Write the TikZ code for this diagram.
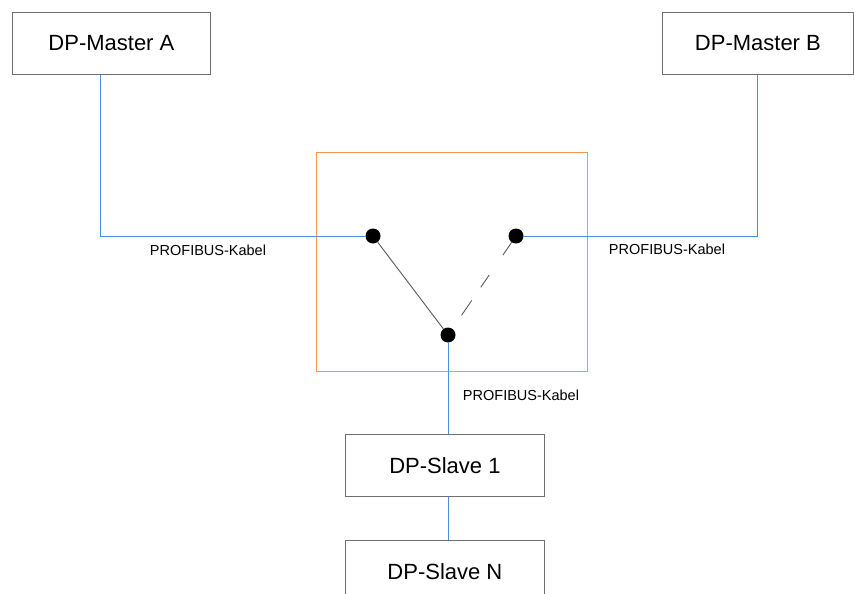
\documentclass[tikz,border=0pt]{standalone}
\usepackage{fontspec}
\setmainfont{Liberation Sans}
\usetikzlibrary{calc}
\definecolor{cableblue}{RGB}{74,144,226}
\definecolor{switchorange}{RGB}{247,150,80}
\definecolor{framegray}{RGB}{110,110,110}
\definecolor{leggray}{RGB}{90,90,90}
\begin{document}
\begin{tikzpicture}[x=1pt,y=1pt,
  device/.style={draw=framegray, line width=0.8pt, fill=white, inner sep=0pt,
    minimum height=62pt, font=\fontsize{22}{26}\selectfont, anchor=north west},
  contact/.style={circle, fill=black, inner sep=0pt, minimum size=15pt},
  cable/.style={draw=cableblue, line width=0.9pt},
  leg/.style={draw=leggray, line width=0.9pt},
  cablelabel/.style={font=\fontsize{14.5}{17}\selectfont, inner sep=0pt}]
\useasboundingbox (0,0) rectangle (854,-594);
\fill[white] (0,0) rectangle (854,-594);

% devices
\node[device, minimum width=198pt] (ma) at (12,-12) {DP-Master A};
\node[device, minimum width=191pt] (mb) at (662,-12) {DP-Master B};
\node[device, minimum width=199pt] (s1) at (345,-434) {DP-Slave 1};
\node[device, minimum width=199pt] (sn) at (345,-540) {DP-Slave N};

% switch housing
\node[draw=switchorange, line width=0.9pt, inner sep=0pt, minimum width=271pt,
  minimum height=219pt, anchor=north west] (sw) at (316,-152) {};

% switch contacts
\node[contact] (cl) at (373,-236) {};
\node[contact] (cr) at (516,-236) {};
\node[contact] (cb) at (448,-335) {};

% bus cables
\coordinate (maout) at ($(ma.south west)+(88,0)$);
\draw[cable] (maout) |- (cl);
\draw[cable] (cr) -| (mb.south);
\draw[cable] (cb) -- (cb |- s1.north);
\draw[cable] (s1.south -| cb) -- (sn.north -| cb);

% switch legs: closed and open
\draw[leg] (cl) -- (cb);
\draw[leg, dash pattern=on 15.5pt off 24pt on 15pt off 16pt on 18pt off 40pt] (cr) -- (cb);

% labels
\node[cablelabel] (la) at (208,-250) {PROFIBUS-Kabel};
\node[cablelabel] (lb) at (667,-249) {PROFIBUS-Kabel};
\node[cablelabel] (lc) at (521,-395) {PROFIBUS-Kabel};
\end{tikzpicture}
\end{document}
